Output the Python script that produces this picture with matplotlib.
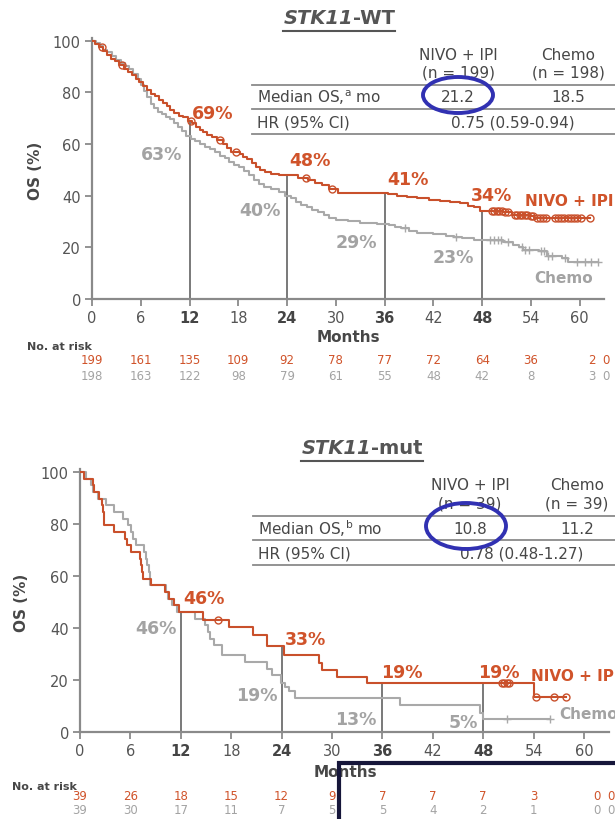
import numpy as np
import matplotlib
matplotlib.use("Agg")
import matplotlib.pyplot as plt
from matplotlib.patches import Ellipse, Rectangle
from matplotlib.lines import Line2D
from matplotlib.transforms import blended_transform_factory

plt.rcParams["font.family"] = ["DejaVu Sans"]

ORANGE = "#C9502B"
ORANGE_TXT = "#D0532A"
GREY = "#A9A9A9"
GREY_TXT = "#A3A3A3"
DARK = "#474747"
AXIS = "#8A8A8A"
VLINE = "#555555"
BLUE = "#3131B2"

W, H = 615, 820

# ---- STK11 wild-type: Kaplan-Meier steps (months, OS %)
wt_nivo_t = [0, 0.4, 0.9, 1.4, 1.9, 2.3, 2.8, 3.3, 3.9, 4.4,
             4.9, 5.4, 5.8, 6.3, 6.8, 7.2, 7.7, 8.2, 8.7, 9.2,
             9.6, 10.1, 10.7, 11.2, 11.8, 12.3, 12.8, 13.3, 13.7, 14.2,
             14.8, 15.4, 16.1, 16.6, 17.1, 18.2, 18.6, 19.1, 19.7, 20.2,
             20.7, 21.3, 22.0, 23.0, 25.3, 26.6, 27.4, 28.3, 29.2, 30.3,
             36.4, 37.5, 38.8, 40.0, 41.5, 42.8, 44.0, 45.3, 46.2, 47.0,
             47.7, 50.6, 51.6, 53.8, 54.4]
wt_nivo_s = [100, 98.5, 97.5, 96, 94.5, 93, 92, 90.5, 89, 88,
             86.5, 85, 84, 82.5, 81, 79.5, 78.5, 77, 76, 74.5,
             73, 72, 71, 70.5, 69, 68, 66.5, 65.5, 64.5, 63.5,
             62.5, 61.5, 60, 58.5, 57, 56, 55, 54, 52.5, 51,
             50, 49, 48.5, 48, 47, 46, 45, 44, 42.5, 41,
             40.5, 40, 39.5, 39, 38.5, 38, 37.5, 37, 36, 35.5,
             34, 33.5, 32.5, 32, 31.2]
wt_nivo_end = 61.3
wt_nivo_cens = [1.2, 3.7, 12.2, 15.8, 17.7, 26.3, 29.5, 49.2, 49.5, 49.8,
                50.1, 50.4, 50.8, 51.2, 52.0, 52.3, 52.6, 52.9, 53.2, 53.5,
                54.0, 54.3, 54.7, 55.1, 55.5, 55.9, 56.9, 57.3, 57.7, 58.1,
                58.5, 58.9, 59.3, 59.7, 60.1, 61.3]

wt_chemo_t = [0, 0.5, 1.0, 1.4, 1.9, 2.5, 3.0, 3.6, 4.1, 4.6,
              5.1, 5.6, 6.0, 6.4, 6.8, 7.2, 7.6, 8.1, 8.6, 9.1,
              9.6, 10.1, 10.6, 11.1, 11.6, 12.2, 12.7, 13.3, 13.9, 14.5,
              15.1, 15.7, 16.3, 16.9, 17.5, 18.1, 18.7, 19.3, 19.9, 20.5,
              21.2, 22.0, 23.0, 23.8, 24.5, 25.1, 25.7, 26.4, 27.0, 27.8,
              28.5, 29.2, 30.0, 31.5, 33.0, 35.0, 36.5, 37.3, 38.0, 39.0,
              40.0, 42.0, 43.5, 44.5, 45.5, 47.0, 50.5, 51.8, 52.5, 53.0,
              55.0, 56.0, 57.8, 58.6]
wt_chemo_s = [100, 99, 98, 96.5, 95.5, 94, 92.5, 91.5, 90, 89,
              87, 85, 83, 80.5, 78, 75.5, 74, 72.5, 71.5, 70.5,
              69.5, 68, 66.5, 65, 63, 62, 61, 60, 59, 58,
              57, 55.5, 54.5, 53, 52, 51, 49.5, 48, 46, 44.5,
              43.5, 42.5, 41.5, 40, 39, 37.5, 36.5, 35.5, 34.5, 33.5,
              32.5, 31.5, 30.5, 30, 29.5, 29, 28.5, 28, 27.5, 26.5,
              25.5, 25, 24.5, 24, 23.5, 23, 22, 21, 20, 19,
              18.5, 16.5, 16, 14.5]
wt_chemo_end = 62.3
wt_chemo_cens = [38.5, 44.8, 49.0, 49.5, 49.9, 50.3, 51.2, 52.9, 53.3, 53.7,
                 55.2, 55.6, 56.1, 56.6, 58.2, 59.7, 60.6, 61.4, 62.2]

# ---- STK11 mutant
mut_nivo_t = [0, 0.5, 1.5, 1.7, 2.3, 2.6, 2.7, 2.8, 2.9, 4.1,
              5.3, 5.6, 6.1, 7.1, 7.25, 7.35, 7.45, 8.5, 10.1, 10.6,
              11.2, 11.8, 14.6, 17.7, 20.6, 22.3, 24.3, 28.5, 28.8, 30.6,
              34.2, 54.1]
mut_nivo_s = [100, 97.4, 94.9, 92.3, 89.7, 87.2, 84.6, 82.1, 79.5, 76.9,
              74.4, 71.8, 69.2, 66.7, 64.1, 61.5, 59.0, 56.4, 53.8, 51.3,
              48.7, 46.2, 43.2, 40.2, 37.3, 33.0, 29.5, 26.4, 23.8, 21.2,
              19.0, 13.5]
mut_nivo_end = 57.8
mut_nivo_cens = [16.4, 50.2, 50.5, 50.8, 51.1, 54.3, 56.4, 57.8]

mut_chemo_t = [0, 0.7, 1.3, 1.5, 2.1, 3.1, 4.1, 5.1, 5.7, 6.1,
               6.3, 6.7, 7.6, 7.8, 8.0, 8.2, 8.35, 10.2, 10.5, 11.0,
               11.5, 13.7, 14.9, 15.2, 15.5, 15.9, 16.9, 19.7, 22.3, 22.8,
               23.9, 24.4, 24.9, 25.6, 38.1, 47.6, 48.0]
mut_chemo_s = [100, 97.4, 94.9, 92.3, 89.7, 87.2, 84.6, 82.1, 79.5, 76.9,
               74.4, 71.8, 69.2, 66.7, 64.1, 61.5, 56.4, 53.8, 51.3, 48.7,
               46.2, 43.6, 41.0, 38.5, 35.9, 33.3, 29.5, 27.0, 24.4, 21.9,
               19.0, 17.5, 15.8, 13.0, 10.2, 7.5, 5.0]
mut_chemo_end = 56.0
mut_chemo_cens = [50.8, 56.0]

# ---- landmark rates
landmarks = [12, 24, 36, 48]
wt_nivo_pct = [69, 48, 41, 34]
wt_chemo_pct = [63, 40, 29, 23]
mut_nivo_pct = [46, 33, 19, 19]
mut_chemo_pct = [46, 19, 13, 5]

# ---- numbers at risk
risk_cols = [0, 6, 12, 18, 24, 30, 36, 42, 48, 54, 61.5, 63.2]
wt_risk_nivo = [199, 161, 135, 109, 92, 78, 77, 72, 64, 36, 2, 0]
wt_risk_chemo = [198, 163, 122, 98, 79, 61, 55, 48, 42, 8, 3, 0]
mut_risk_nivo = [39, 26, 18, 15, 12, 9, 7, 7, 7, 3, 0, 0]
mut_risk_chemo = [39, 30, 17, 11, 7, 5, 5, 4, 2, 1, 0, 0]

# ---- summary tables
wt_n = ["(n = 199)", "(n = 198)"]
wt_median = ["21.2", "18.5"]
wt_hr = "0.75 (0.59-0.94)"
mut_n = ["(n = 39)", "(n = 39)"]
mut_median = ["10.8", "11.2"]
mut_hr = "0.78 (0.48-1.27)"


def fx(x):
    return x / W


def fy(y):
    return 1 - y / H


def value_at(t, s, x):
    idx = np.searchsorted(np.asarray(t), x, side="right") - 1
    return np.asarray(s)[idx]


def km_panel(ax, nivo, chemo, nivo_pct, chemo_pct, nivo_lab, chemo_lab, name_pos):
    (nt, ns, nend, ncens), (ct, cs, cend, ccens) = nivo, chemo
    ax.step(np.append(ct, cend), np.append(cs, cs[-1]), where="post",
            color=GREY, lw=1.5, zorder=3)
    ax.plot(ccens, value_at(ct, cs, ccens), ls="none", marker="+",
            ms=6, mew=1.0, color=GREY, zorder=3)
    ax.step(np.append(nt, nend), np.append(ns, ns[-1]), where="post",
            color=ORANGE, lw=1.5, zorder=4)
    ax.plot(ncens, value_at(nt, ns, ncens), ls="none", marker="o",
            ms=5, mew=1.0, mfc="none", mec=ORANGE, zorder=4)
    ax.vlines(landmarks, 0, nivo_pct, color=VLINE, lw=1.1, zorder=2)

    for v, (x, y) in zip(nivo_pct, nivo_lab):
        ax.text(x, y, f"{v}%", color=ORANGE_TXT, fontsize=12.5,
                fontweight="bold", ha="center", va="center")
    for v, (x, y) in zip(chemo_pct, chemo_lab):
        ax.text(x, y, f"{v}%", color=GREY_TXT, fontsize=12.5,
                fontweight="bold", ha="center", va="center")
    ax.text(*name_pos[0], "NIVO + IPI", color=ORANGE_TXT, fontsize=11,
            fontweight="bold", ha="left", va="center", clip_on=False)
    ax.text(*name_pos[1], "Chemo", color=GREY_TXT, fontsize=11,
            fontweight="bold", ha="left", va="center", clip_on=False)

    ax.set_xlim(0, 63)
    ax.set_ylim(0, 101)
    ax.set_xticks(range(0, 61, 6))
    ax.set_yticks(range(0, 101, 20))
    for side in ("top", "right"):
        ax.spines[side].set_visible(False)
    for side in ("left", "bottom"):
        ax.spines[side].set_color(AXIS)
        ax.spines[side].set_linewidth(1.6)
    ax.tick_params(direction="out", length=5, width=1.3, color=AXIS,
                   labelcolor="#555555", labelsize=10.5, pad=3)
    for lab in ax.get_xticklabels():
        if int(float(lab.get_text())) in landmarks:
            lab.set_fontweight("bold")
            lab.set_color("#444444")
    ax.patch.set_visible(False)


def risk_rows(ax, nivo, chemo, y_title, x_title, y1, y2):
    fig = ax.figure
    tr = blended_transform_factory(ax.transData, fig.transFigure)
    fig.text(fx(x_title), fy(y_title), "No. at risk", fontsize=8,
             fontweight="bold", color=DARK, ha="left", va="center")
    for x, a, b in zip(risk_cols, nivo, chemo):
        ax.text(x, fy(y1), str(a), transform=tr, fontsize=8.5, color=ORANGE_TXT,
                ha="center", va="center", clip_on=False)
        ax.text(x, fy(y2), str(b), transform=tr, fontsize=8.5, color=GREY_TXT,
                ha="center", va="center", clip_on=False)


def summary_table(fig, top, x_left, c1, c2, c_hr, n_txt, med, hr, sup, ring):
    hdr = dict(fontsize=11, color=DARK, ha="center", va="center")
    fig.text(fx(c1), fy(top), "NIVO + IPI", **hdr)
    fig.text(fx(c2), fy(top), "Chemo", **hdr)
    fig.text(fx(c1), fy(top + 18), n_txt[0], **hdr)
    fig.text(fx(c2), fy(top + 18), n_txt[1], **hdr)
    for dy in (31, 55, 80):
        fig.add_artist(Line2D([fx(x_left), 1.0], [fy(top + dy)] * 2,
                              color=AXIS, lw=1.3))
    row1, row2 = top + 43, top + 68
    fig.text(fx(x_left + 5), fy(row1), "Median OS,$^{\\mathregular{%s}}$ mo" % sup,
             fontsize=11, color=DARK, ha="left", va="center")
    fig.text(fx(c1), fy(row1), med[0], **hdr)
    fig.text(fx(c2), fy(row1), med[1], **hdr)
    fig.text(fx(x_left + 5), fy(row2), "HR (95% CI)", fontsize=11, color=DARK,
             ha="left", va="center")
    fig.text(fx(c_hr), fy(row2), hr, **hdr)
    (ex, ey), (ew, eh) = ring
    fig.add_artist(Ellipse((fx(ex), fy(ey)), ew / W, eh / H, fill=False,
                           ec=BLUE, lw=2.8, zorder=10))


def title(fig, split_x, y, ul_y, left, right):
    t1 = fig.text(fx(split_x), fy(y), left, fontsize=14, fontweight="bold",
                  fontstyle="italic", color="#555555", ha="right", va="center")
    t2 = fig.text(fx(split_x), fy(y), right, fontsize=14, fontweight="bold",
                  color="#555555", ha="left", va="center")
    return t1, t2, ul_y


fig = plt.figure(figsize=(W / 100, H / 100), dpi=100)
fig.patch.set_facecolor("white")

# top panel: STK11-WT
ax1 = fig.add_axes([fx(92), fy(300), 63 * 8.13 / W, 261 / H])
km_panel(
    ax1,
    (wt_nivo_t, wt_nivo_s, wt_nivo_end, wt_nivo_cens),
    (wt_chemo_t, wt_chemo_s, wt_chemo_end, wt_chemo_cens),
    wt_nivo_pct, wt_chemo_pct,
    [(14.8, 72), (26.8, 53.8), (38.8, 46.4), (49.2, 40.4)],
    [(8.5, 56.2), (20.7, 34.3), (32.5, 21.9), (44.5, 16.2)],
    [(53.3, 38.1), (54.4, 8.2)],
)
fig.text(fx(35), fy(171), "OS (%)", rotation=90, fontsize=11, fontweight="bold",
         color=DARK, ha="center", va="center")
fig.text(fx(348), fy(338), "Months", fontsize=11, fontweight="bold",
         color=DARK, ha="center", va="center")
risk_rows(ax1, wt_risk_nivo, wt_risk_chemo, 347, 27, 361, 377)
summary_table(fig, 55, 252, 458, 568, 513, wt_n, wt_median, wt_hr, "a",
              ((458, 96), (70, 36)))

# bottom panel: STK11-mut
ax2 = fig.add_axes([fx(80), fy(733), 63 * 8.4 / W, 262.6 / H])
km_panel(
    ax2,
    (mut_nivo_t, mut_nivo_s, mut_nivo_end, mut_nivo_cens),
    (mut_chemo_t, mut_chemo_s, mut_chemo_end, mut_chemo_cens),
    mut_nivo_pct, mut_chemo_pct,
    [(14.8, 51.5), (26.9, 35.8), (38.3, 23.1), (49.8, 22.9)],
    [(9.0, 40.0), (21.1, 14.2), (32.8, 5.1), (45.6, 3.8)],
    [(53.7, 21.6), (57.0, 7.2)],
)
fig.text(fx(22), fy(603), "OS (%)", rotation=90, fontsize=11, fontweight="bold",
         color=DARK, ha="center", va="center")
fig.text(fx(345), fy(773), "Months", fontsize=11, fontweight="bold",
         color=DARK, ha="center", va="center")
risk_rows(ax2, mut_risk_nivo, mut_risk_chemo, 787, 12, 797, 811)
summary_table(fig, 486, 253, 470, 577, 522, mut_n, mut_median, mut_hr, "b",
              ((466, 527), (80, 46)))

# panel titles with underline
titles = [title(fig, 353, 18, 32, "STK11", "-WT"),
          title(fig, 371, 449, 462, "STK11", "-mut")]
fig.canvas.draw()
renderer = fig.canvas.get_renderer()
for t1, t2, ul_y in titles:
    x0 = t1.get_window_extent(renderer).x0
    x1 = t2.get_window_extent(renderer).x1
    fig.add_artist(Line2D([x0 / W, x1 / W], [fy(ul_y)] * 2, color="#555555", lw=1.5))

# highlight box over the late at-risk columns
fig.add_artist(Rectangle((fx(339), fy(835)), 320 / W, (835 - 764) / H,
                         fill=False, ec="#16163A", lw=3, zorder=10))

fig.savefig("out.png", dpi=100, facecolor="white")
